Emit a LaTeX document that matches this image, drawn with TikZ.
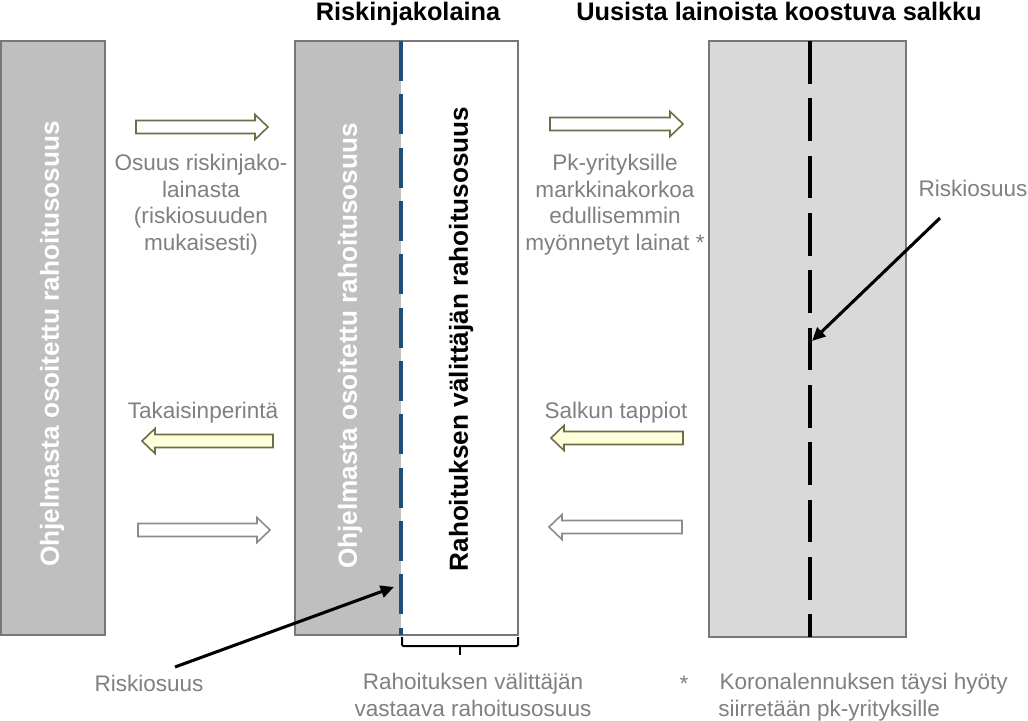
\documentclass[tikz,border=0pt]{standalone}
\usepackage{fontspec}
\setmainfont{Liberation Sans}
\usetikzlibrary{arrows.meta}
\definecolor{boxgray}{RGB}{191,191,191}
\definecolor{lightbox}{RGB}{217,217,217}
\definecolor{bordergray}{RGB}{120,120,120}
\definecolor{txtgray}{RGB}{128,128,128}
\definecolor{dashblue}{RGB}{31,78,121}
\definecolor{arrolive}{RGB}{110,110,70}
\definecolor{paleyellow}{RGB}{255,255,220}
\definecolor{arrgray}{RGB}{140,140,140}
\newcommand\rarr[4]{\filldraw[barrow,#4] (#1,#3-6.5) -- (#2-13,#3-6.5) -- (#2-13,#3-12.5) -- (#2,#3) -- (#2-13,#3+12.5) -- (#2-13,#3+6.5) -- (#1,#3+6.5) -- cycle;}
\newcommand\larr[4]{\filldraw[barrow,#4] (#1,#3) -- (#1+13,#3-12.5) -- (#1+13,#3-6.5) -- (#2,#3-6.5) -- (#2,#3+6.5) -- (#1+13,#3+6.5) -- (#1+13,#3+12.5) -- cycle;}
\begin{document}
\begin{tikzpicture}[x=0.75pt,y=-0.75pt,
 panel/.style={draw=bordergray,line width=1.2pt},
 graytext/.style={text=txtgray,font=\fontsize{16.9}{20}\selectfont,align=center,inner sep=0pt},
 title/.style={font=\bfseries\fontsize{19}{22}\selectfont,inner sep=0pt},
 vtext/.style={rotate=90,font=\bfseries\fontsize{19.6}{22}\selectfont,inner sep=0pt},
 barrow/.style={line width=1.2pt,line join=miter},
 pointer/.style={line width=2.3pt,-{Triangle[length=10pt,width=9pt]}},
]
\useasboundingbox[fill=white] (0,0) rectangle (1028,721);
% panels
\filldraw[panel,fill=boxgray] (1,41) rectangle (105,635);
\fill[boxgray] (295,41) rectangle (401,635);
\draw[panel] (295,41) rectangle (518,635);
\draw[dashblue,line width=2.4pt,dash pattern=on 30pt off 10pt] (401,41) -- (401,635);
\filldraw[panel,fill=lightbox] (709,41) rectangle (906,637);
\draw[black,line width=3pt,dash pattern=on 32pt off 11pt] (810,41) -- (810,637);
% titles
\node[title,anchor=base] (h1) at (408,20) {Riskinjakolaina};
\node[title,anchor=base] (h2) at (779,20) {Uusista lainoista koostuva salkku};
% vertical texts
\node[vtext,text=white] (v1) at (52,344) {Ohjelmasta osoitettu rahoitusosuus};
\node[vtext,text=white] (v2) at (350,346) {Ohjelmasta osoitettu rahoitusosuus};
\node[vtext] (v3) at (461,339) {Rahoituksen välittäjän rahoitusosuus};
% block arrows
\rarr{136}{268}{127}{draw=arrolive,fill=white}
\larr{142}{273}{441}{draw=arrolive,fill=paleyellow}
\rarr{138}{270}{530}{draw=arrgray,fill=white}
\rarr{550}{683}{124}{draw=arrolive,fill=white}
\larr{551}{683}{438}{draw=arrolive,fill=paleyellow}
\larr{549}{682}{527}{draw=arrgray,fill=white}
% gray texts
\node[graytext,anchor=north] (t1) at (201,154) {Osuus riskinjako-\\lainasta\\(riskiosuuden\\mukaisesti)};
\node[graytext,anchor=north] (t2) at (615,154) {Pk-yrityksille\\markkinakorkoa\\edullisemmin\\myönnetyt lainat *};
\node[graytext,anchor=base] (t3) at (203,418) {Takaisinperintä};
\node[graytext,anchor=base] (t4) at (616,418) {Salkun tappiot};
\node[graytext,anchor=base] (r1) at (973,196) {Riskiosuus};
\node[graytext,anchor=base] (r2) at (149,691) {Riskiosuus};
\node[graytext,anchor=north] (t5) at (473,673) {Rahoituksen välittäjän\\vastaava rahoitusosuus};
\node[graytext,anchor=base] (st) at (684,691) {*};
\node[graytext,anchor=north west,align=left] (t6) at (718,673) {\hspace{1pt}Koronalennuksen täysi hyöty\\siirretään pk-yrityksille};
% brace
\draw[line width=1.5pt,rounded corners=1pt] (402,637) -- (402,646) -- (518,646) -- (518,637);
\coordinate (bt) at (460,646);
\coordinate (bb) at (460,655);
\draw[line width=1.5pt] (bt) -- (bb);
% pointers
\coordinate (p1s) at (940,218);
\coordinate (p1e) at (812,341);
\draw[pointer] (p1s) -- (p1e);
\coordinate (p2s) at (175,667);
\coordinate (p2e) at (394,587);
\draw[pointer] (p2s) -- (p2e);
\end{tikzpicture}
\end{document}
